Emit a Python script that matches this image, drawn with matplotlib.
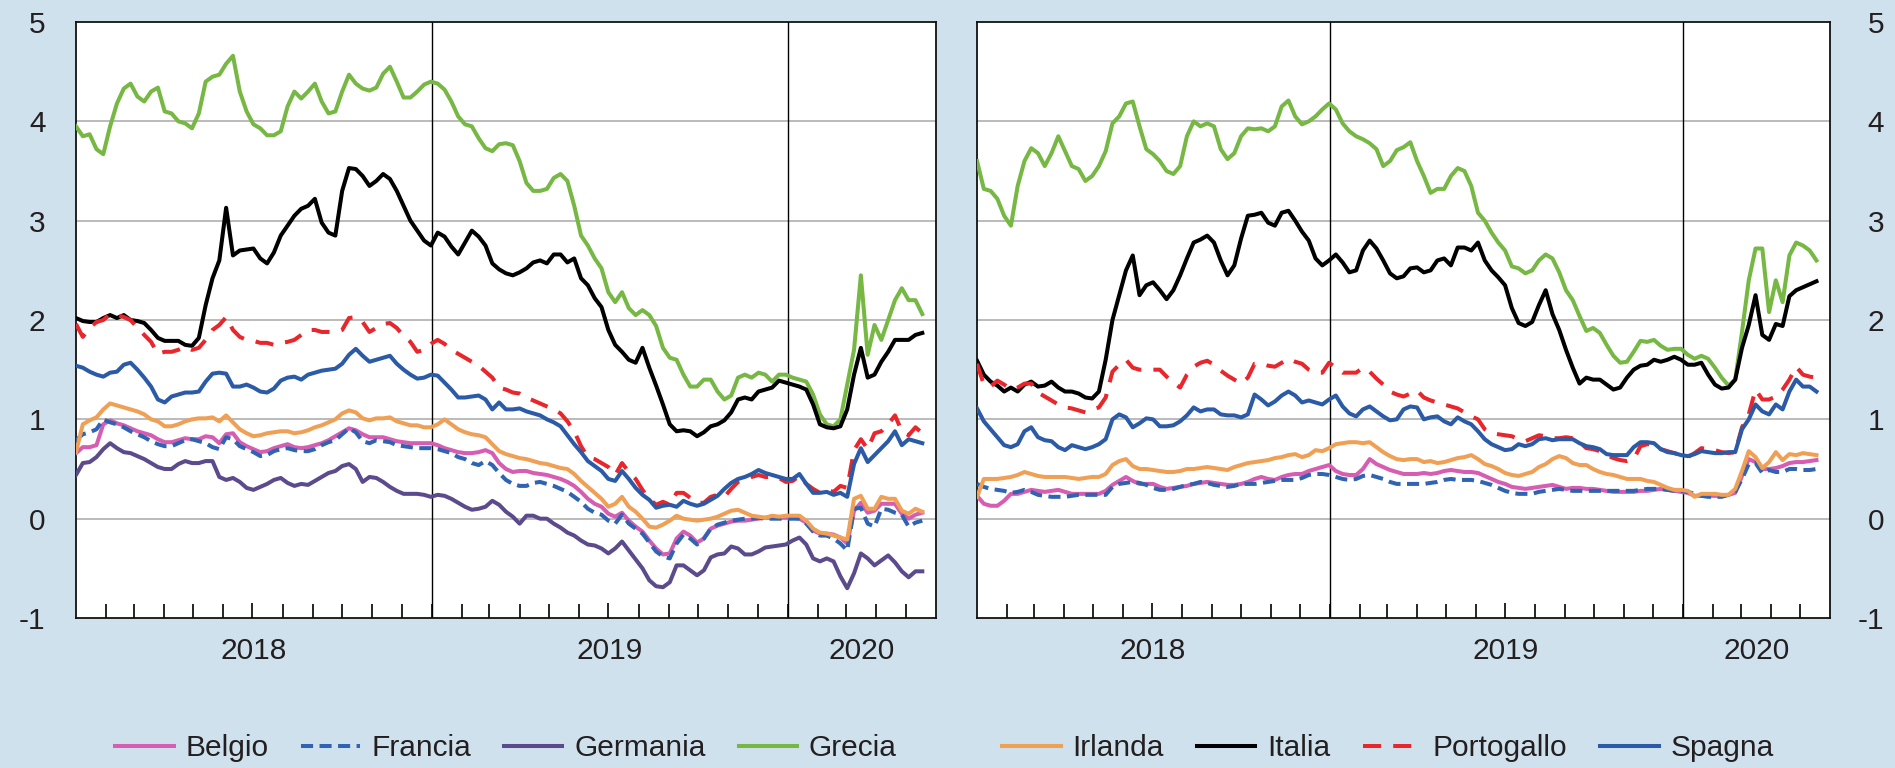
import matplotlib.pyplot as plt
import pandas as pd

plt.rcParams['font.family'] = ['Liberation Sans', 'DejaVu Sans']
plt.rcParams['axes.unicode_minus'] = False

# weekly observations, Jan 2018 - May 2020
weeks = pd.date_range('2018-01-01', periods=125, freq='7D')

paesi = ['Belgio', 'Francia', 'Germania', 'Grecia',
         'Irlanda', 'Italia', 'Portogallo', 'Spagna']

# ---- left panel ----
belgio_l = [
    0.66, 0.72, 0.72, 0.74, 0.95, 0.99, 0.96, 0.94, 0.91, 0.88,
    0.86, 0.84, 0.80, 0.77, 0.77, 0.79, 0.81, 0.80, 0.80, 0.83,
    0.82, 0.76, 0.85, 0.86, 0.77, 0.73, 0.70, 0.67, 0.68, 0.71,
    0.73, 0.75, 0.72, 0.71, 0.72, 0.74, 0.76, 0.79, 0.83, 0.87,
    0.91, 0.89, 0.85, 0.82, 0.82, 0.82, 0.80, 0.78, 0.77, 0.76,
    0.76, 0.76, 0.76, 0.74, 0.71, 0.69, 0.67, 0.66, 0.66, 0.67,
    0.69, 0.66, 0.56, 0.50, 0.47, 0.48, 0.48, 0.46, 0.45, 0.44,
    0.42, 0.40, 0.37, 0.33, 0.27, 0.20, 0.15, 0.12, 0.05, 0.02,
    0.06, -0.02, -0.08, -0.13, -0.22, -0.30, -0.36, -0.35, -0.20, -0.13,
    -0.17, -0.24, -0.20, -0.10, -0.07, -0.05, -0.03, -0.02, -0.02, -0.01,
    0.00, 0.01, 0.01, 0.01, 0.01, 0.01, 0.00, -0.04, -0.12, -0.15,
    -0.15, -0.16, -0.19, -0.25, 0.08, 0.16, 0.06, 0.08, 0.15, 0.15,
    0.15, 0.05, 0.00, 0.04, 0.06]

francia_l = [
    0.79, 0.85, 0.87, 0.90, 1.00, 0.97, 0.95, 0.92, 0.88, 0.85,
    0.82, 0.78, 0.75, 0.73, 0.73, 0.76, 0.79, 0.80, 0.78, 0.76,
    0.72, 0.70, 0.82, 0.80, 0.73, 0.70, 0.67, 0.63, 0.64, 0.68,
    0.70, 0.71, 0.69, 0.68, 0.68, 0.70, 0.74, 0.77, 0.79, 0.85,
    0.91, 0.87, 0.78, 0.76, 0.79, 0.78, 0.77, 0.74, 0.73, 0.72,
    0.71, 0.71, 0.71, 0.70, 0.68, 0.66, 0.62, 0.60, 0.56, 0.54,
    0.58, 0.54, 0.46, 0.39, 0.35, 0.33, 0.33, 0.36, 0.37, 0.35,
    0.33, 0.30, 0.27, 0.22, 0.17, 0.10, 0.06, 0.04, -0.02, -0.05,
    0.04, -0.05, -0.10, -0.15, -0.24, -0.33, -0.38, -0.40, -0.25, -0.16,
    -0.20, -0.26, -0.20, -0.10, -0.06, -0.04, -0.02, -0.01, 0.00, 0.00,
    0.01, 0.00, 0.00, 0.00, 0.00, 0.00, 0.00, -0.05, -0.13, -0.17,
    -0.17, -0.20, -0.25, -0.32, 0.10, 0.11, -0.05, -0.08, 0.10, 0.09,
    0.06, 0.04, -0.08, -0.04, -0.02]

germania_l = [
    0.44, 0.56, 0.57, 0.62, 0.70, 0.76, 0.71, 0.67, 0.66, 0.63,
    0.60, 0.56, 0.52, 0.50, 0.50, 0.55, 0.58, 0.56, 0.56, 0.58,
    0.58, 0.42, 0.39, 0.41, 0.37, 0.31, 0.29, 0.32, 0.35, 0.39,
    0.41, 0.36, 0.33, 0.35, 0.34, 0.38, 0.42, 0.46, 0.48, 0.53,
    0.55, 0.50, 0.37, 0.42, 0.41, 0.37, 0.32, 0.28, 0.25, 0.25,
    0.25, 0.24, 0.22, 0.24, 0.23, 0.20, 0.16, 0.12, 0.09, 0.10,
    0.12, 0.18, 0.14, 0.07, 0.02, -0.05, 0.03, 0.03, 0.00, 0.00,
    -0.05, -0.09, -0.14, -0.17, -0.22, -0.26, -0.27, -0.30, -0.35, -0.30,
    -0.23, -0.32, -0.41, -0.50, -0.62, -0.68, -0.69, -0.64, -0.47, -0.47,
    -0.52, -0.57, -0.52, -0.39, -0.36, -0.35, -0.28, -0.30, -0.36, -0.36,
    -0.33, -0.29, -0.28, -0.27, -0.26, -0.22, -0.19, -0.26, -0.40, -0.43,
    -0.40, -0.43, -0.58, -0.70, -0.55, -0.35, -0.40, -0.47, -0.42, -0.37,
    -0.44, -0.53, -0.59, -0.53, -0.53]

grecia_l = [
    3.95, 3.85, 3.87, 3.72, 3.67, 3.95, 4.18, 4.33, 4.38, 4.25,
    4.20, 4.30, 4.34, 4.10, 4.08, 4.00, 3.98, 3.93, 4.08, 4.40,
    4.45, 4.47, 4.58, 4.66, 4.30, 4.10, 3.97, 3.93, 3.86, 3.86,
    3.90, 4.15, 4.30, 4.23, 4.30, 4.38, 4.20, 4.08, 4.10, 4.30,
    4.47, 4.38, 4.33, 4.31, 4.34, 4.48, 4.55, 4.40, 4.24, 4.24,
    4.30, 4.37, 4.40, 4.38, 4.32, 4.20, 4.05, 3.97, 3.95, 3.83,
    3.73, 3.70, 3.77, 3.78, 3.76, 3.60, 3.38, 3.30, 3.30, 3.32,
    3.43, 3.47, 3.40, 3.15, 2.85, 2.75, 2.62, 2.52, 2.28, 2.18,
    2.28, 2.12, 2.05, 2.10, 2.05, 1.94, 1.72, 1.62, 1.60, 1.45,
    1.33, 1.33, 1.40, 1.40, 1.28, 1.20, 1.24, 1.42, 1.45, 1.42,
    1.47, 1.45, 1.38, 1.45, 1.45, 1.42, 1.40, 1.38, 1.25, 1.05,
    0.95, 0.93, 1.00, 1.35, 1.70, 2.45, 1.65, 1.95, 1.80, 2.00,
    2.20, 2.32, 2.20, 2.20, 2.06]

irlanda_l = [
    0.67, 0.95, 0.99, 1.02, 1.10, 1.16, 1.14, 1.12, 1.10, 1.08,
    1.05, 1.00, 0.98, 0.93, 0.93, 0.95, 0.98, 1.00, 1.01, 1.01,
    1.02, 0.98, 1.04, 0.97, 0.90, 0.86, 0.83, 0.84, 0.86, 0.87,
    0.88, 0.88, 0.86, 0.87, 0.89, 0.92, 0.94, 0.97, 1.00, 1.06,
    1.09, 1.07, 1.01, 0.99, 1.01, 1.01, 1.02, 0.98, 0.96, 0.94,
    0.94, 0.92, 0.92, 0.95, 1.00, 0.95, 0.90, 0.87, 0.85, 0.84,
    0.82, 0.75, 0.68, 0.65, 0.63, 0.61, 0.60, 0.58, 0.56, 0.55,
    0.53, 0.51, 0.50, 0.45, 0.38, 0.32, 0.26, 0.20, 0.12, 0.15,
    0.22, 0.12, 0.07, 0.00, -0.08, -0.09, -0.06, -0.02, 0.03, 0.00,
    -0.01, -0.02, -0.01, 0.00, 0.02, 0.05, 0.08, 0.09, 0.06, 0.03,
    0.02, 0.01, 0.03, 0.02, 0.03, 0.03, 0.03, -0.02, -0.10, -0.14,
    -0.15, -0.17, -0.19, -0.21, 0.20, 0.23, 0.10, 0.10, 0.22, 0.20,
    0.20, 0.08, 0.05, 0.10, 0.07]

italia_l = [
    2.02, 1.99, 1.98, 1.98, 2.02, 2.05, 2.02, 2.05, 2.00, 1.99,
    1.97, 1.90, 1.82, 1.79, 1.79, 1.79, 1.75, 1.74, 1.82, 2.15,
    2.42, 2.60, 3.13, 2.65, 2.70, 2.71, 2.72, 2.62, 2.57, 2.68,
    2.85, 2.95, 3.05, 3.12, 3.15, 3.22, 2.98, 2.88, 2.85, 3.30,
    3.53, 3.52, 3.45, 3.35, 3.40, 3.47, 3.42, 3.30, 3.15, 3.00,
    2.90, 2.80, 2.75, 2.88, 2.84, 2.74, 2.66, 2.78, 2.90, 2.84,
    2.75, 2.57, 2.51, 2.47, 2.45, 2.48, 2.52, 2.58, 2.60, 2.57,
    2.66, 2.66, 2.58, 2.62, 2.42, 2.35, 2.22, 2.13, 1.90, 1.75,
    1.68, 1.60, 1.57, 1.72, 1.52, 1.34, 1.15, 0.95, 0.88, 0.89,
    0.88, 0.83, 0.87, 0.93, 0.95, 0.99, 1.07, 1.20, 1.22, 1.20,
    1.28, 1.30, 1.32, 1.39, 1.37, 1.35, 1.33, 1.30, 1.15, 0.95,
    0.92, 0.91, 0.93, 1.10, 1.45, 1.72, 1.42, 1.45, 1.58, 1.68,
    1.80, 1.80, 1.80, 1.85, 1.87]

portogallo_l = [
    1.96, 1.83, 1.92, 1.98, 2.00, 2.06, 2.05, 2.03, 2.00, 1.92,
    1.85, 1.78, 1.66, 1.68, 1.68, 1.70, 1.73, 1.70, 1.72, 1.80,
    1.90, 1.95, 2.03, 1.90, 1.83, 1.80, 1.79, 1.77, 1.77, 1.75,
    1.77, 1.78, 1.80, 1.85, 1.90, 1.90, 1.88, 1.88, 1.88, 1.90,
    2.02, 2.03, 1.98, 1.88, 1.92, 1.96, 1.97, 1.92, 1.84, 1.78,
    1.68, 1.70, 1.76, 1.80, 1.76, 1.70, 1.66, 1.62, 1.58, 1.54,
    1.48, 1.42, 1.32, 1.30, 1.27, 1.26, 1.22, 1.19, 1.16, 1.13,
    1.10, 1.06, 0.98, 0.88, 0.73, 0.62, 0.60, 0.56, 0.52, 0.44,
    0.56, 0.47, 0.40, 0.29, 0.20, 0.14, 0.17, 0.14, 0.26, 0.26,
    0.21, 0.16, 0.16, 0.22, 0.24, 0.22, 0.30, 0.37, 0.39, 0.42,
    0.44, 0.42, 0.42, 0.41, 0.37, 0.38, 0.43, 0.35, 0.30, 0.26,
    0.29, 0.27, 0.33, 0.31, 0.69, 0.80, 0.70, 0.86, 0.88, 0.95,
    1.04, 0.88, 0.84, 0.92, 0.86]

spagna_l = [
    1.54, 1.52, 1.48, 1.45, 1.43, 1.47, 1.48, 1.55, 1.57, 1.50,
    1.42, 1.33, 1.20, 1.17, 1.23, 1.25, 1.27, 1.27, 1.28, 1.38,
    1.46, 1.47, 1.46, 1.33, 1.33, 1.35, 1.32, 1.28, 1.27, 1.31,
    1.39, 1.42, 1.43, 1.40, 1.45, 1.47, 1.49, 1.50, 1.51, 1.56,
    1.65, 1.71, 1.64, 1.58, 1.60, 1.62, 1.64, 1.56, 1.50, 1.45,
    1.41, 1.42, 1.45, 1.44, 1.37, 1.30, 1.22, 1.22, 1.23, 1.24,
    1.20, 1.10, 1.17, 1.10, 1.10, 1.11, 1.08, 1.06, 1.04, 1.00,
    0.97, 0.93, 0.84, 0.75, 0.67, 0.58, 0.53, 0.48, 0.40, 0.38,
    0.48, 0.40, 0.31, 0.24, 0.19, 0.11, 0.13, 0.14, 0.12, 0.18,
    0.15, 0.13, 0.15, 0.19, 0.23, 0.30, 0.36, 0.40, 0.42, 0.45,
    0.49, 0.46, 0.44, 0.42, 0.40, 0.40, 0.45, 0.35, 0.26, 0.26,
    0.27, 0.24, 0.26, 0.22, 0.55, 0.71, 0.57, 0.64, 0.71, 0.78,
    0.88, 0.74, 0.80, 0.78, 0.76]

# ---- right panel ----
belgio_r = [
    0.23, 0.15, 0.13, 0.13, 0.18, 0.25, 0.25, 0.27, 0.29, 0.28,
    0.27, 0.28, 0.29, 0.27, 0.25, 0.25, 0.25, 0.25, 0.25, 0.28,
    0.34, 0.38, 0.42, 0.38, 0.35, 0.35, 0.35, 0.32, 0.30, 0.31,
    0.32, 0.33, 0.35, 0.36, 0.37, 0.36, 0.35, 0.34, 0.34, 0.35,
    0.37, 0.40, 0.42, 0.40, 0.39, 0.42, 0.44, 0.45, 0.45, 0.48,
    0.50, 0.52, 0.54, 0.48, 0.45, 0.44, 0.44, 0.50, 0.60, 0.55,
    0.52, 0.49, 0.47, 0.45, 0.45, 0.45, 0.46, 0.45, 0.46, 0.48,
    0.49, 0.48, 0.47, 0.47, 0.46, 0.43, 0.40, 0.37, 0.35, 0.32,
    0.31, 0.30, 0.31, 0.32, 0.33, 0.34, 0.32, 0.30, 0.31, 0.31,
    0.30, 0.30, 0.29, 0.28, 0.27, 0.27, 0.27, 0.27, 0.28, 0.28,
    0.29, 0.30, 0.29, 0.28, 0.27, 0.26, 0.23, 0.23, 0.23, 0.23,
    0.23, 0.24, 0.26, 0.43, 0.60, 0.57, 0.50, 0.50, 0.51, 0.53,
    0.56, 0.57, 0.57, 0.58, 0.59]

francia_r = [
    0.35, 0.32, 0.30, 0.29, 0.28, 0.26, 0.27, 0.29, 0.27, 0.24,
    0.23, 0.22, 0.22, 0.22, 0.23, 0.24, 0.24, 0.24, 0.24, 0.24,
    0.32, 0.35, 0.36, 0.37, 0.36, 0.34, 0.31, 0.29, 0.29, 0.30,
    0.32, 0.34, 0.35, 0.37, 0.36, 0.34, 0.33, 0.32, 0.33, 0.35,
    0.35, 0.35, 0.36, 0.37, 0.38, 0.39, 0.39, 0.39, 0.41, 0.44,
    0.45, 0.45, 0.44, 0.42, 0.40, 0.39, 0.40, 0.43, 0.44, 0.42,
    0.40, 0.37, 0.35, 0.35, 0.35, 0.35, 0.35, 0.36, 0.37, 0.39,
    0.40, 0.39, 0.39, 0.39, 0.38, 0.36, 0.34, 0.31, 0.28, 0.26,
    0.25, 0.25, 0.25, 0.27, 0.28, 0.29, 0.30, 0.29, 0.28, 0.28,
    0.28, 0.28, 0.28, 0.28, 0.28, 0.28, 0.28, 0.28, 0.29, 0.30,
    0.30, 0.30, 0.29, 0.28, 0.28, 0.27, 0.25, 0.23, 0.22, 0.22,
    0.22, 0.24, 0.27, 0.40, 0.55, 0.56, 0.46, 0.49, 0.47, 0.47,
    0.50, 0.50, 0.49, 0.49, 0.50]

grecia_r = [
    3.60, 3.32, 3.30, 3.22, 3.05, 2.95, 3.35, 3.60, 3.73, 3.68,
    3.55, 3.68, 3.85, 3.70, 3.55, 3.52, 3.40, 3.45, 3.55, 3.70,
    3.98, 4.05, 4.18, 4.20, 3.95, 3.72, 3.67, 3.60, 3.50, 3.47,
    3.55, 3.85, 4.00, 3.95, 3.98, 3.95, 3.72, 3.62, 3.68, 3.85,
    3.93, 3.92, 3.93, 3.90, 3.95, 4.15, 4.21, 4.05, 3.97, 4.00,
    4.05, 4.12, 4.18, 4.12, 3.98, 3.90, 3.85, 3.82, 3.78, 3.72,
    3.55, 3.60, 3.71, 3.74, 3.79, 3.60, 3.45, 3.28, 3.32, 3.32,
    3.45, 3.53, 3.50, 3.35, 3.08, 3.00, 2.88, 2.78, 2.70, 2.54,
    2.52, 2.47, 2.50, 2.60, 2.66, 2.62, 2.48, 2.30, 2.20, 2.04,
    1.89, 1.92, 1.87, 1.75, 1.64, 1.57, 1.58, 1.68, 1.79, 1.78,
    1.80, 1.74, 1.70, 1.71, 1.71, 1.65, 1.61, 1.64, 1.61, 1.52,
    1.42, 1.34, 1.40, 1.88, 2.40, 2.72, 2.72, 2.08, 2.40, 2.18,
    2.65, 2.78, 2.75, 2.70, 2.60]

irlanda_r = [
    0.22, 0.40, 0.40, 0.40, 0.41, 0.42, 0.44, 0.47, 0.45, 0.43,
    0.42, 0.42, 0.42, 0.42, 0.41, 0.40, 0.41, 0.42, 0.42, 0.45,
    0.54, 0.58, 0.60, 0.53, 0.50, 0.50, 0.49, 0.48, 0.47, 0.47,
    0.48, 0.50, 0.50, 0.51, 0.52, 0.51, 0.50, 0.49, 0.52, 0.54,
    0.56, 0.57, 0.58, 0.59, 0.61, 0.62, 0.64, 0.65, 0.62, 0.64,
    0.69, 0.68, 0.71, 0.75, 0.76, 0.77, 0.77, 0.76, 0.77, 0.72,
    0.67, 0.63, 0.60, 0.59, 0.60, 0.60, 0.57, 0.58, 0.56, 0.57,
    0.59, 0.61, 0.62, 0.64, 0.60, 0.55, 0.53, 0.50, 0.46, 0.44,
    0.43, 0.45, 0.47, 0.52, 0.55, 0.60, 0.63, 0.61, 0.56, 0.54,
    0.54, 0.50, 0.47, 0.45, 0.44, 0.42, 0.40, 0.40, 0.40, 0.38,
    0.37, 0.34, 0.31, 0.29, 0.29, 0.28, 0.22, 0.25, 0.25, 0.25,
    0.24, 0.24, 0.30, 0.48, 0.68, 0.62, 0.51, 0.57, 0.67, 0.59,
    0.65, 0.64, 0.66, 0.65, 0.64]

italia_r = [
    1.59, 1.45, 1.38, 1.34, 1.28, 1.32, 1.28, 1.35, 1.38, 1.33,
    1.34, 1.38, 1.32, 1.28, 1.28, 1.26, 1.22, 1.21, 1.28, 1.60,
    2.00, 2.25, 2.50, 2.65, 2.25, 2.35, 2.38, 2.30, 2.21, 2.30,
    2.45, 2.62, 2.78, 2.81, 2.85, 2.78, 2.60, 2.45, 2.55, 2.82,
    3.05, 3.06, 3.08, 2.98, 2.95, 3.08, 3.10, 3.00, 2.89, 2.80,
    2.62, 2.55, 2.60, 2.66, 2.58, 2.48, 2.50, 2.70, 2.80, 2.72,
    2.60, 2.47, 2.42, 2.44, 2.52, 2.53, 2.48, 2.50, 2.60, 2.62,
    2.55, 2.73, 2.73, 2.70, 2.78, 2.60, 2.50, 2.43, 2.35, 2.12,
    1.97, 1.94, 1.98, 2.15, 2.30, 2.06, 1.90, 1.70, 1.52, 1.36,
    1.42, 1.40, 1.40, 1.35, 1.30, 1.32, 1.42, 1.50, 1.54, 1.55,
    1.60, 1.58, 1.60, 1.63, 1.60, 1.55, 1.55, 1.57, 1.45, 1.35,
    1.31, 1.32, 1.40, 1.72, 1.95, 2.25, 1.85, 1.80, 1.96, 1.94,
    2.24, 2.30, 2.33, 2.36, 2.39]

portogallo_r = [
    1.56, 1.35, 1.33, 1.39, 1.35, 1.30, 1.32, 1.36, 1.36, 1.27,
    1.23, 1.19, 1.15, 1.12, 1.11, 1.09, 1.07, 1.10, 1.12, 1.22,
    1.48, 1.55, 1.60, 1.52, 1.50, 1.50, 1.50, 1.50, 1.43, 1.37,
    1.32, 1.45, 1.53, 1.57, 1.59, 1.55, 1.49, 1.44, 1.40, 1.36,
    1.42, 1.56, 1.56, 1.54, 1.53, 1.57, 1.61, 1.58, 1.56, 1.50,
    1.47, 1.47, 1.57, 1.52, 1.47, 1.47, 1.47, 1.52, 1.48, 1.41,
    1.35, 1.28, 1.25, 1.23, 1.26, 1.29, 1.22, 1.19, 1.17, 1.15,
    1.13, 1.11, 1.07, 1.03, 1.00, 0.90, 0.86, 0.85, 0.84, 0.83,
    0.80, 0.78, 0.81, 0.84, 0.83, 0.81, 0.81, 0.82, 0.81, 0.77,
    0.71, 0.70, 0.68, 0.64, 0.61, 0.59, 0.58, 0.60, 0.73, 0.75,
    0.75, 0.70, 0.68, 0.66, 0.64, 0.62, 0.66, 0.71, 0.70, 0.69,
    0.67, 0.66, 0.67, 0.92, 1.05, 1.30, 1.20, 1.20, 1.23, 1.30,
    1.40, 1.53, 1.45, 1.43, 1.42]

spagna_r = [
    1.11, 0.98, 0.90, 0.82, 0.74, 0.72, 0.75, 0.88, 0.92, 0.82,
    0.79, 0.78, 0.72, 0.69, 0.74, 0.72, 0.70, 0.72, 0.75, 0.80,
    1.00, 1.05, 1.02, 0.92, 0.96, 1.01, 1.00, 0.93, 0.93, 0.94,
    0.98, 1.04, 1.12, 1.08, 1.10, 1.10, 1.05, 1.04, 1.04, 1.02,
    1.05, 1.25, 1.20, 1.14, 1.18, 1.24, 1.28, 1.24, 1.17, 1.19,
    1.17, 1.15, 1.20, 1.24, 1.13, 1.06, 1.03, 1.10, 1.13, 1.08,
    1.03, 0.99, 1.00, 1.10, 1.13, 1.12, 1.00, 1.02, 1.03, 0.98,
    0.95, 1.02, 0.98, 0.95, 0.88, 0.80, 0.75, 0.72, 0.69, 0.70,
    0.75, 0.73, 0.75, 0.80, 0.81, 0.79, 0.80, 0.80, 0.80, 0.76,
    0.73, 0.72, 0.70, 0.65, 0.64, 0.64, 0.64, 0.72, 0.77, 0.77,
    0.76, 0.70, 0.67, 0.66, 0.64, 0.63, 0.65, 0.68, 0.67, 0.66,
    0.66, 0.67, 0.67, 0.90, 1.00, 1.15, 1.08, 1.05, 1.15, 1.10,
    1.28, 1.40, 1.33, 1.33, 1.28]

serie_sx = {'Belgio': belgio_l, 'Francia': francia_l, 'Germania': germania_l,
            'Grecia': grecia_l, 'Irlanda': irlanda_l, 'Italia': italia_l,
            'Portogallo': portogallo_l, 'Spagna': spagna_l}
serie_dx = {'Belgio': belgio_r, 'Francia': francia_r, 'Grecia': grecia_r,
            'Irlanda': irlanda_r, 'Italia': italia_r,
            'Portogallo': portogallo_r, 'Spagna': spagna_r}

stili = {
    'Belgio': dict(color='#d65db1'),
    'Francia': dict(color='#3064b2', dashes=(3.0, 1.6)),
    'Germania': dict(color='#5c4b8c'),
    'Grecia': dict(color='#76b843'),
    'Irlanda': dict(color='#f0a055'),
    'Italia': dict(color='#000000'),
    'Portogallo': dict(color='#e8262b', dashes=(4.5, 3.0)),
    'Spagna': dict(color='#2b5ba7'),
}

bg = '#cfe1ed'
txt = '#231f20'
fs = 21.5

fig = plt.figure(figsize=(18.95, 7.68), dpi=100, facecolor=bg)
ax1 = fig.add_axes([0.0401, 0.1953, 0.4538, 0.7760])
ax2 = fig.add_axes([0.5156, 0.1953, 0.4501, 0.7760])

mesi = pd.date_range('2018-02-01', '2020-05-01', freq='MS')
luglio = [m for m in mesi if m.month == 7]
altri = [m for m in mesi if m.month != 7]
pos_anni = [pd.Timestamp('2018-07-02'), pd.Timestamp('2019-07-02'),
            pd.Timestamp('2020-03-17')]

handles = {}


def disegna(ax, serie, lato):
    ax.set_facecolor('white')
    ax.set_xlim(pd.Timestamp('2018-01-01'), pd.Timestamp('2020-06-01'))
    ax.set_ylim(-1, 5)
    for v in range(0, 5):
        ax.axhline(v, color='#a8a8a8', lw=1.1, zorder=1)
    for a in ['2019-01-01', '2020-01-01']:
        ax.axvline(pd.Timestamp(a), color='black', lw=1.0, zorder=1)

    for nome, vals in serie.items():
        ln, = ax.plot(weeks, vals, lw=2.9, zorder=3, label=nome,
                      solid_joinstyle='round', **stili[nome])
        handles.setdefault(nome, ln)

    for s in ax.spines.values():
        s.set_color('#111111')
        s.set_linewidth(1.3)

    ax.set_yticks(range(-1, 6))
    ax.set_xticks(pos_anni)
    ax.set_xticklabels(['2018', '2019', '2020'])
    ax.set_xticks(altri, minor=True)
    ax.tick_params(axis='x', which='minor', direction='in', length=10,
                   width=1.2, color='black')
    ax.tick_params(axis='x', which='major', length=0, pad=13.5,
                   labelsize=fs, labelcolor=txt)
    ax.vlines(luglio, 0, 0.026, transform=ax.get_xaxis_transform(),
              color='black', lw=1.2, zorder=4)

    if lato == 'dx':
        ax.yaxis.tick_right()
        ax.tick_params(axis='y', length=0, pad=39, labelsize=fs,
                       labelcolor=txt)
        for lab in ax.get_yticklabels():
            lab.set_horizontalalignment('right')
    else:
        ax.tick_params(axis='y', length=0, pad=22, labelsize=fs,
                       labelcolor=txt)


disegna(ax1, serie_sx, 'sx')
disegna(ax2, serie_dx, 'dx')

for gruppo, cx in [(paesi[:4], 0.267), (paesi[4:], 0.7325)]:
    fig.legend([handles[n] for n in gruppo], gruppo, loc='center',
               bbox_to_anchor=(cx, 0.026), ncol=4, frameon=False,
               fontsize=fs, handlelength=1.95, handletextpad=0.4,
               columnspacing=1.1, labelcolor=txt)

fig.savefig('out.png', dpi=100, facecolor=bg)
